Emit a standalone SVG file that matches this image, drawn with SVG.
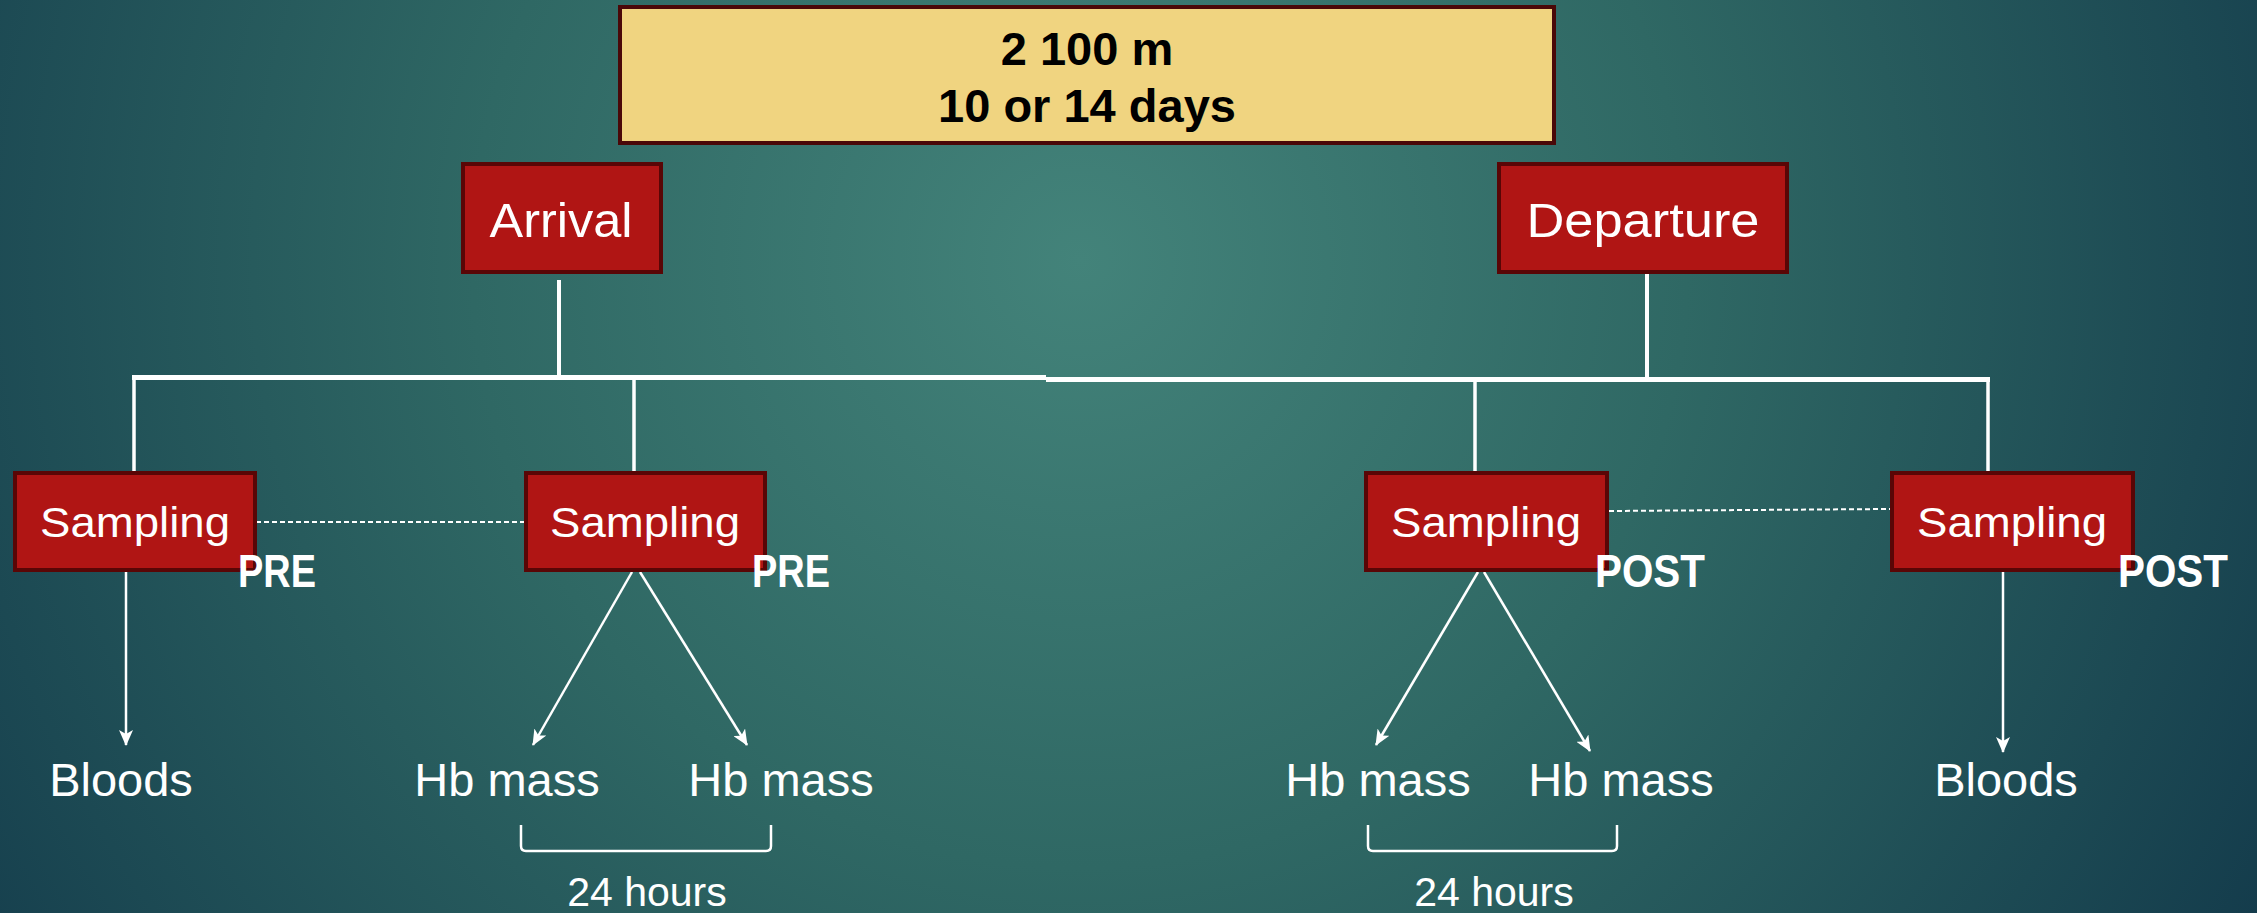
<svg xmlns="http://www.w3.org/2000/svg" width="2257" height="913" viewBox="0 0 2257 913">
<defs>
<radialGradient id="bg" gradientUnits="userSpaceOnUse" cx="1080" cy="260" r="1350">
<stop offset="0" stop-color="#43837a"/>
<stop offset="0.45" stop-color="#2f6864"/>
<stop offset="1" stop-color="#143c4c"/>
</radialGradient>
<marker id="ah" viewBox="0 0 16 14" refX="15" refY="7" markerWidth="16" markerHeight="14" markerUnits="userSpaceOnUse" orient="auto">
<path d="M0,0 L16,7 L0,14 L4,7 Z" fill="#ffffff"/>
</marker>
<style>
.red{fill:#b01514;stroke:#590606;stroke-width:4}
.lbl{font-family:"Liberation Sans",Arial,sans-serif;fill:#ffffff;text-anchor:middle}
.box{font-size:48px}
.samp{font-size:42px}
.tag{font-family:"Liberation Sans",Arial,sans-serif;fill:#ffffff;font-weight:bold;font-size:47px}
.out{font-size:47px}
.hrs{font-size:41px}
.ln{stroke:#ffffff;fill:none}
.arr{stroke:#ffffff;stroke-width:2.5;fill:none;marker-end:url(#ah)}
</style>
</defs>
<rect x="0" y="0" width="2257" height="913" fill="url(#bg)"/>

<g id="header">
<rect x="620" y="7" width="934" height="136" fill="#f0d480" stroke="#4a0808" stroke-width="4"/>
<text x="1087" y="65" font-family="Liberation Sans,Arial,sans-serif" font-weight="bold" font-size="47" text-anchor="middle" fill="#000">2 100 m</text>
<text x="1087" y="122" font-family="Liberation Sans,Arial,sans-serif" font-weight="bold" font-size="47" text-anchor="middle" fill="#000">10 or 14 days</text>
</g>

<g id="connectors">
<path class="ln" stroke-width="4" d="M559,280 V378"/>
<path class="ln" stroke-width="4" d="M1647,273 V380"/>
<path class="ln" stroke-width="5" d="M132,377.5 H1046"/>
<path class="ln" stroke-width="5" d="M1046,379.5 H1990"/>
<path class="ln" stroke-width="3.5" d="M134,376 V475"/>
<path class="ln" stroke-width="3.5" d="M634,376 V475"/>
<path class="ln" stroke-width="3.5" d="M1475,378 V475"/>
<path class="ln" stroke-width="3.5" d="M1988,378 V473"/>
<path class="ln" stroke-width="2" stroke-dasharray="5,3" d="M256,522 H525"/>
<path class="ln" stroke-width="2" stroke-dasharray="5,3" d="M1609,511 L1890,509"/>
<path class="arr" d="M126,572 V745"/>
<path class="arr" d="M632,572 L533,745"/>
<path class="arr" d="M640,572 L747,745"/>
<path class="arr" d="M1478,572 L1376,745"/>
<path class="arr" d="M1484,572 L1590,751"/>
<path class="arr" d="M2003,572 V752"/>
<path class="ln" stroke-width="2.5" d="M521,825 V846 Q521,851 526,851 H766 Q771,851 771,846 V825"/>
<path class="ln" stroke-width="2.5" d="M1368,825 V846 Q1368,851 1373,851 H1612 Q1617,851 1617,846 V825"/>
</g>

<g id="arrival">
<rect class="red" x="463" y="164" width="198" height="108"/>
<text class="lbl box" x="561" y="237" textLength="143" lengthAdjust="spacingAndGlyphs">Arrival</text>
</g>
<g id="departure">
<rect class="red" x="1499" y="164" width="288" height="108"/>
<text class="lbl box" x="1643" y="237" textLength="233" lengthAdjust="spacingAndGlyphs">Departure</text>
</g>

<g id="sampling-pre-1">
<rect class="red" x="15" y="473" width="240" height="97"/>
<text class="lbl samp" x="135" y="537" textLength="190" lengthAdjust="spacingAndGlyphs">Sampling</text>
<text class="tag" x="238" y="587" textLength="78" lengthAdjust="spacingAndGlyphs">PRE</text>
</g>
<g id="sampling-pre-2">
<rect class="red" x="526" y="473" width="239" height="97"/>
<text class="lbl samp" x="645" y="537" textLength="190" lengthAdjust="spacingAndGlyphs">Sampling</text>
<text class="tag" x="752" y="587" textLength="78" lengthAdjust="spacingAndGlyphs">PRE</text>
</g>
<g id="sampling-post-1">
<rect class="red" x="1366" y="473" width="241" height="97"/>
<text class="lbl samp" x="1486" y="537" textLength="190" lengthAdjust="spacingAndGlyphs">Sampling</text>
<text class="tag" x="1595" y="587" textLength="110" lengthAdjust="spacingAndGlyphs">POST</text>
</g>
<g id="sampling-post-2">
<rect class="red" x="1892" y="473" width="241" height="97"/>
<text class="lbl samp" x="2012" y="537" textLength="190" lengthAdjust="spacingAndGlyphs">Sampling</text>
<text class="tag" x="2118" y="587" textLength="110" lengthAdjust="spacingAndGlyphs">POST</text>
</g>

<g id="bloods-pre"><text class="lbl out" x="121" y="796">Bloods</text></g>
<g id="hb-pre-1"><text class="lbl out" x="507" y="796">Hb mass</text></g>
<g id="hb-pre-2"><text class="lbl out" x="781" y="796">Hb mass</text></g>
<g id="hb-post-1"><text class="lbl out" x="1378" y="796">Hb mass</text></g>
<g id="hb-post-2"><text class="lbl out" x="1621" y="796">Hb mass</text></g>
<g id="bloods-post"><text class="lbl out" x="2006" y="796">Bloods</text></g>
<g id="hours-pre"><text class="lbl hrs" x="647" y="906">24 hours</text></g>
<g id="hours-post"><text class="lbl hrs" x="1494" y="906">24 hours</text></g>
</svg>
